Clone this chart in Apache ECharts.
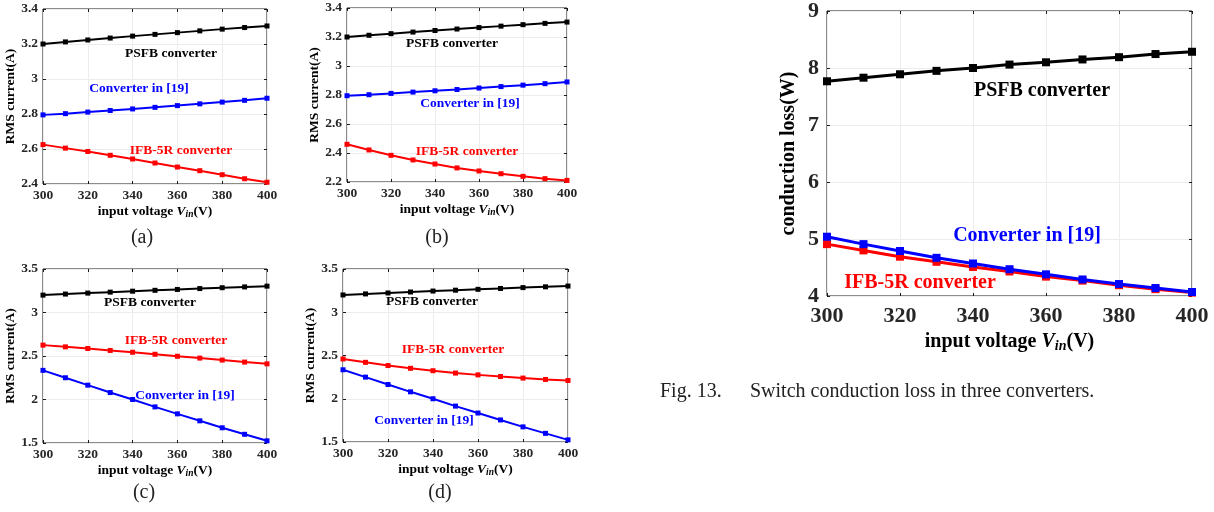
<!DOCTYPE html>
<html>
<head>
<meta charset="utf-8">
<script src="https://cdn.jsdelivr.net/npm/echarts@6/dist/echarts.min.js"></script>
<style>
  html, body { margin: 0; padding: 0; background: #fff; }
  #chart { width: 1214px; height: 512px; }
</style>
</head>
<body>
<div id="chart"></div>
<script>
// input voltage (V)
const vin = [300, 310, 320, 330, 340, 350, 360, 370, 380, 390, 400]

// RMS current (A)
const psfbRms = [3.2, 3.212, 3.223, 3.234, 3.245, 3.255, 3.265, 3.275, 3.285, 3.294, 3.303]
const ref19RmsAB = [2.795, 2.802, 2.811, 2.82, 2.829, 2.838, 2.848, 2.858, 2.868, 2.878, 2.89]
const ifbRmsAC = [2.625, 2.605, 2.586, 2.564, 2.543, 2.52, 2.497, 2.476, 2.453, 2.43, 2.41]
const ifbRmsBD = [2.46, 2.421, 2.384, 2.352, 2.324, 2.297, 2.276, 2.257, 2.239, 2.223, 2.211]
const ref19RmsCD = [2.335, 2.25, 2.165, 2.08, 2.0, 1.915, 1.835, 1.755, 1.675, 1.6, 1.525]

// conduction loss (W)
const psfbLoss = [7.767, 7.83, 7.89, 7.95, 8.0, 8.06, 8.1, 8.15, 8.19, 8.245, 8.285]
const ref19Loss = [5.04, 4.91, 4.79, 4.67, 4.57, 4.47, 4.38, 4.29, 4.21, 4.14, 4.07]
const ifbLoss = [4.91, 4.8, 4.69, 4.6, 4.51, 4.43, 4.34, 4.27, 4.19, 4.12, 4.06]

const FONT = "'Liberation Serif', 'Times New Roman', serif"
const BLACK = '#000000'
const BLUE = '#0000ff'
const RED = '#ff0000'

const pairs = (ys) => vin.map((x, i) => [x, ys[i]])

// panel layout: [left, top, width, height]
const panels = [
  { box: [43, 9, 224, 175], min: 2.4, max: 3.4, step: 0.2, big: false },
  { box: [347, 8, 220, 174], min: 2.2, max: 3.4, step: 0.2, big: false },
  { box: [43, 269, 224, 174], min: 1.5, max: 3.5, step: 0.5, big: false },
  { box: [343, 269, 225, 173], min: 1.5, max: 3.5, step: 0.5, big: false },
  { box: [827, 9, 365, 287], min: 4, max: 9, step: 1, big: true }
]

const lines = [
  [psfbRms, ref19RmsAB, ifbRmsAC],
  [psfbRms, ref19RmsAB, ifbRmsBD],
  [psfbRms, ifbRmsAC, ref19RmsCD],
  [psfbRms, ifbRmsBD, ref19RmsCD],
  [psfbLoss, ifbLoss, ref19Loss]
]
const colors = [
  [BLACK, BLUE, RED],
  [BLACK, BLUE, RED],
  [BLACK, RED, BLUE],
  [BLACK, RED, BLUE],
  [BLACK, RED, BLUE]
]

const grid = panels.map(p => ({
  left: p.box[0], top: p.box[1], width: p.box[2], height: p.box[3],
  show: true, borderColor: '#1a1a1a', borderWidth: 1, containLabel: false
}))

const tickIn = { show: true, inside: true, length: 3, lineStyle: { color: '#1a1a1a' } }

const xAxis = []
const yAxis = []
panels.forEach((p, i) => {
  const fs = p.big ? 22 : 13.5
  const nfs = p.big ? 20 : 13.5
  xAxis.push({
    gridIndex: i,
    type: 'value', min: 300, max: 400, interval: 20,
    name: 'input voltage {v|V}{s|in}(V)',
    nameLocation: 'middle',
    nameGap: p.big ? 32 : 20,
    nameTextStyle: {
      fontFamily: FONT, fontWeight: 'bold', fontSize: nfs, color: '#000',
      rich: {
        v: { fontFamily: FONT, fontWeight: 'bold', fontStyle: 'italic', fontSize: nfs, color: '#000' },
        s: { fontFamily: FONT, fontWeight: 'bold', fontStyle: 'italic', fontSize: nfs * 0.7, color: '#000', padding: [nfs * 0.45, 0, 0, 0] }
      }
    },
    axisLine: { show: false },
    axisTick: tickIn,
    axisLabel: { fontFamily: FONT, fontWeight: 'bold', fontSize: fs, color: '#262626', margin: p.big ? 9 : 5 },
    splitLine: { show: true, lineStyle: { color: '#ececec', width: 1 } }
  })
  // top axis only for the inward ticks of the box
  xAxis.push({
    gridIndex: i, position: 'top',
    type: 'value', min: 300, max: 400, interval: 20,
    axisLine: { show: false }, axisTick: tickIn,
    axisLabel: { show: false }, splitLine: { show: false }
  })
  yAxis.push({
    gridIndex: i,
    type: 'value', min: p.min, max: p.max, interval: p.step,
    name: p.big ? 'conduction loss(W)' : 'RMS current(A)',
    nameLocation: 'middle',
    nameGap: p.big ? 28 : 23,
    nameTextStyle: { fontFamily: FONT, fontWeight: 'bold', fontSize: nfs, color: '#000' },
    axisLine: { show: false },
    axisTick: tickIn,
    axisLabel: { fontFamily: FONT, fontWeight: 'bold', fontSize: fs, color: '#262626', margin: p.big ? 8 : 5 },
    splitLine: { show: true, lineStyle: { color: '#ececec', width: 1 } }
  })
  yAxis.push({
    gridIndex: i, position: 'right',
    type: 'value', min: p.min, max: p.max, interval: p.step,
    axisLine: { show: false }, axisTick: tickIn,
    axisLabel: { show: false }, splitLine: { show: false }
  })
})

const series = []
lines.forEach((set, gi) => {
  const big = panels[gi].big
  set.forEach((ys, k) => {
    series.push({
      type: 'line',
      xAxisIndex: gi * 2, yAxisIndex: gi * 2,
      data: pairs(ys),
      symbol: 'rect',
      symbolSize: big ? 8 : 5,
      showSymbol: true,
      smooth: false,
      animation: false,
      lineStyle: { color: colors[gi][k], width: big ? 3 : 2 },
      itemStyle: { color: colors[gi][k] },
      z: 3 + k
    })
  })
})

// curve labels and captions
const lbl = (x, y, text, color, size) => ({
  type: 'text', x, y, z: 100,
  style: {
    text, fill: color, align: 'center', verticalAlign: 'middle',
    fontFamily: FONT, fontWeight: 'bold', fontSize: size
  }
})
const cap = (x, y, text, align) => ({
  type: 'text', x, y,
  style: {
    text, fill: '#222', align: align || 'center', verticalAlign: 'middle',
    fontFamily: FONT, fontSize: 20
  }
})

const graphic = [
  lbl(171, 54, 'PSFB converter', BLACK, 13.5),
  lbl(139, 89, 'Converter in [19]', BLUE, 13.5),
  lbl(181, 151, 'IFB-5R converter', RED, 13.5),

  lbl(452, 44, 'PSFB converter', BLACK, 13.5),
  lbl(470, 104, 'Converter in [19]', BLUE, 13.5),
  lbl(467, 152, 'IFB-5R converter', RED, 13.5),

  lbl(150, 303, 'PSFB converter', BLACK, 13.5),
  lbl(176, 341, 'IFB-5R converter', RED, 13.5),
  lbl(185, 396, 'Converter in [19]', BLUE, 13.5),

  lbl(432, 302, 'PSFB converter', BLACK, 13.5),
  lbl(453, 350, 'IFB-5R converter', RED, 13.5),
  lbl(424, 421, 'Converter in [19]', BLUE, 13.5),

  lbl(1042, 91, 'PSFB converter', BLACK, 20),
  lbl(1027, 236, 'Converter in [19]', BLUE, 20),
  lbl(920, 283, 'IFB-5R converter', RED, 20),

  cap(142, 238, '(a)'),
  cap(437, 238, '(b)'),
  cap(144, 493, '(c)'),
  cap(440, 493, '(d)'),
  cap(660, 392, 'Fig. 13.', 'left'),
  cap(750, 392, 'Switch conduction loss in three converters.', 'left')
]

const chart = echarts.init(document.getElementById('chart'))
chart.setOption({
  backgroundColor: '#fff',
  animation: false,
  grid, xAxis, yAxis, series, graphic
})
</script>
</body>
</html>
